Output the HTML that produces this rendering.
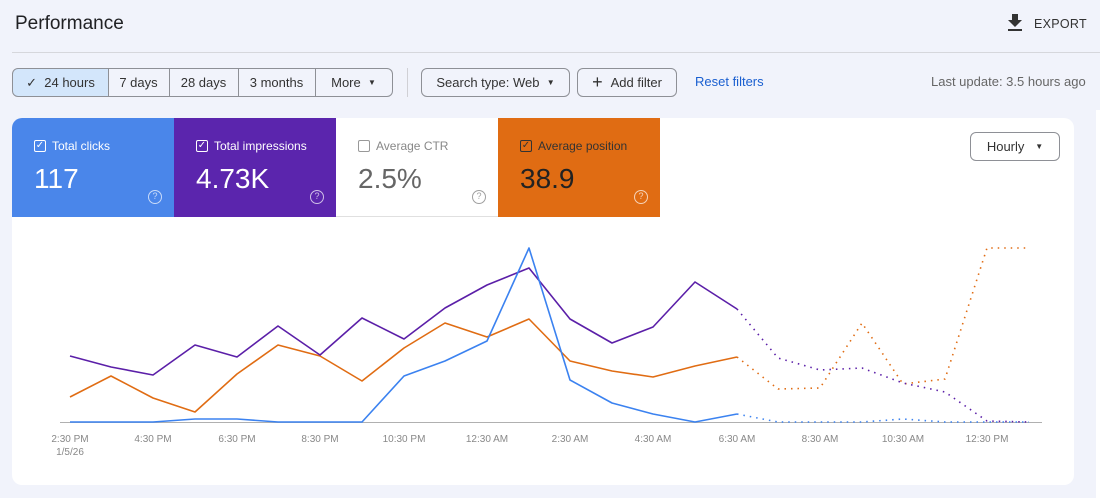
<!DOCTYPE html>
<html><head><meta charset="utf-8"><style>
*{box-sizing:border-box;margin:0;padding:0}
body{width:1100px;height:498px;background:#f1f3fb;font-family:"Liberation Sans",sans-serif;position:relative;overflow:hidden;color:#202124}
.abs{position:absolute}
.btn{position:absolute;top:68px;height:29px;border:1px solid #8e9096;font-size:13px;display:flex;align-items:center;justify-content:center;color:#333}
.card{position:absolute;top:118px;height:99px;width:162px;color:#fff}
.card .t{position:absolute;left:22px;top:21px;font-size:12px;display:flex;align-items:center}
.card .cb{width:12px;height:12px;border:1.5px solid currentColor;border-radius:2px;margin-right:6px;font-size:10px;line-height:9px;text-align:center}
.card .v{position:absolute;left:22px;top:45px;font-size:28px}
.card .q{position:absolute;right:12px;top:72px;width:14px;height:14px;border:1.5px solid currentColor;border-radius:50%;font-size:9px;text-align:center;line-height:11px;opacity:.7}
</style></head><body>
<div class="abs" style="left:15px;top:13px;font-size:19px">Performance</div>
<div class="abs" style="left:1008px;top:14px;width:14px;height:16px">
<svg width="14" height="17"><path d="M4 0h6v6h4l-7 7-7-7h4z" fill="#333"/><rect y="15" width="14" height="2" fill="#333"/></svg></div>
<div class="abs" style="left:1034px;top:17px;font-size:12.5px;letter-spacing:.3px;color:#333">EXPORT</div>
<div class="abs" style="left:12px;top:52px;width:1088px;height:1px;background:#d6d7dc"></div>
<div class="btn" style="left:12px;width:97px;background:#d3e6fb;border-radius:6px 0 0 6px">✓&nbsp; 24 hours</div>
<div class="btn" style="left:108px;width:62px;border-left:none">7 days</div>
<div class="btn" style="left:169px;width:70px;border-left:none">28 days</div>
<div class="btn" style="left:238px;width:78px;border-left:none">3 months</div>
<div class="btn" style="left:315px;width:78px;border-left:none;border-radius:0 6px 6px 0">More &nbsp;<span style="font-size:8px">▼</span></div>
<div class="abs" style="left:407px;top:68px;width:1px;height:29px;background:#d0d0d5"></div>
<div class="btn" style="left:421px;width:149px;border-radius:6px">Search type: Web &nbsp;<span style="font-size:8px">▼</span></div>
<div class="btn" style="left:577px;width:100px;border-radius:6px"><span style="font-size:18px;margin-right:8px;font-weight:300">+</span>Add filter</div>
<div class="abs" style="left:695px;top:74px;font-size:13px;color:#1a5fd0">Reset filters</div>
<div class="abs" style="left:931px;top:74px;font-size:13px;color:#666">Last update: 3.5 hours ago</div>
<div class="abs" style="left:12px;top:118px;width:1062px;height:367px;background:#fff;border-radius:10px"></div>
<div class="abs" style="left:1096px;top:110px;width:4px;height:388px;background:#fff"></div>
<div class="card" style="left:12px;background:#4a86ea;border-radius:10px 0 0 0"><div class="t"><span class="cb">✓</span>Total clicks</div><div class="v">117</div><div class="q">?</div></div>
<div class="card" style="left:174px;background:#5b25ad"><div class="t"><span class="cb">✓</span>Total impressions</div><div class="v">4.73K</div><div class="q">?</div></div>
<div class="card" style="left:336px;background:#fff;color:#666;border-bottom:1px solid #e0e0e0"><div class="t" style="color:#888"><span class="cb" style="border-color:#999"></span>Average CTR</div><div class="v" style="color:#666">2.5%</div><div class="q" style="color:#777">?</div></div>
<div class="card" style="left:498px;background:#e06c13;color:#222"><div class="t" style="color:#333"><span class="cb">✓</span>Average position</div><div class="v">38.9</div><div class="q" style="color:#fff">?</div></div>
<div class="btn" style="left:970px;top:132px;width:90px;border-radius:6px;height:29px">Hourly &nbsp;&nbsp;<span style="font-size:8px">▼</span></div>
<svg class="abs" style="left:0;top:0" width="1100" height="498">
<line x1="60" y1="422.5" x2="1042" y2="422.5" stroke="#b0b0b0" stroke-width="1"/>
<g font-size="10" fill="#888" text-anchor="middle">
<text x="70" y="442">2:30 PM</text><text x="70" y="455">1/5/26</text>
<text x="153" y="442">4:30 PM</text><text x="237" y="442">6:30 PM</text><text x="320" y="442">8:30 PM</text>
<text x="404" y="442">10:30 PM</text><text x="487" y="442">12:30 AM</text><text x="570" y="442">2:30 AM</text>
<text x="653" y="442">4:30 AM</text><text x="737" y="442">6:30 AM</text><text x="820" y="442">8:30 AM</text>
<text x="903" y="442">10:30 AM</text><text x="987" y="442">12:30 PM</text></g>
<g fill="none" stroke-width="1.6" stroke-linejoin="round">
<polyline stroke="#e06c13" points="70,397 111,376 153,398 195,412 237,374 278,345 320,356 362,381 404,348 445,323 487,337 529,319 570,361 612,371 653,377 695,366 737,357"/>
<polyline stroke="#e06c13" stroke-dasharray="1.5 5" points="737,357 778,389 820,388 862,323 903,384 945,379 987,248 1029,248"/>
<polyline stroke="#5b1fa8" points="70,356 111,367 153,375 195,345 237,357 278,326 320,355 362,318 404,339 445,308 487,285 529,268 570,319 612,343 653,327 695,282 737,309"/>
<polyline stroke="#5b1fa8" stroke-dasharray="1.5 5" points="737,309 778,358 820,370 862,368 903,383 945,392 987,421 1029,422"/>
<polyline stroke="#3b82f0" points="70,422 111,422 153,422 195,419 237,419 278,422 320,422 362,422 404,376 445,361 487,341 529,248 570,380 612,403 653,414 695,422 737,414"/>
<polyline stroke="#3b82f0" stroke-dasharray="1.5 5" points="737,414 778,422 820,422 862,422 903,419 945,422 987,422 1029,422"/>
</g></svg>
</body></html>
